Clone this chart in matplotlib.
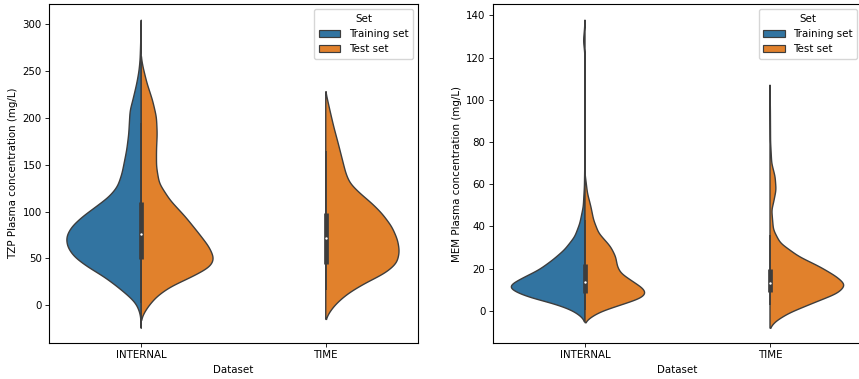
import numpy as np
import matplotlib
matplotlib.use("Agg")
import matplotlib.pyplot as plt
from matplotlib.patches import Patch

datasets = ["INTERNAL", "TIME"]
sets = ["Training set", "Test set"]
colors = {"Training set": "#3274a1", "Test set": "#e1812c"}
edge = "#3d3d3d"

# ---- density profiles: concentration (mg/L) and half-width ----
tzp_int_train_y = [-24.6, -15, -8.8, 1.9, 9.1, 19.7, 30.4, 41.1, 51.8, 62.5, 73.1, 83.8, 94.5,
                   105, 115.8, 126.5, 140.7, 165.7, 183, 208, 219, 236.7, 250, 262, 280, 304.4]
tzp_int_train_w = [0, 0.002, 0.005, 0.027, 0.063, 0.127, 0.199, 0.289, 0.361, 0.397, 0.403, 0.374, 0.316,
                   0.244, 0.172, 0.127, 0.103, 0.078, 0.067, 0.060, 0.045, 0.024, 0.012, 0.006, 0.003, 0]
tzp_int_test_y = [-15.8, -10.5, -1.6, 9.1, 19.7, 30.4, 41.1, 50, 62.5, 76.6, 94.5, 112, 130, 148,
                  165.7, 183, 201, 219, 236.7, 254.6, 265]
tzp_int_test_w = [0, 0.009, 0.036, 0.081, 0.154, 0.271, 0.370, 0.389, 0.361, 0.307, 0.235, 0.154, 0.096, 0.081,
                  0.081, 0.085, 0.081, 0.060, 0.031, 0.009, 0]
tzp_time_test_y = [-15, -6.8, 2.1, 12.8, 23.5, 34.2, 44.8, 57.2, 69.7, 83.9, 98.2, 108.9, 119.5, 130.2,
                   140.9, 155, 172.9, 190.6, 208.4, 228]
tzp_time_test_w = [0, 0.022, 0.058, 0.121, 0.211, 0.320, 0.383, 0.397, 0.387, 0.356, 0.302, 0.248, 0.184, 0.130,
                   0.108, 0.090, 0.067, 0.043, 0.022, 0]

mem_int_train_y = [-5.0, -2.7, 0.5, 3.6, 6.0, 8.3, 10.7, 12.3, 15.4, 19.4, 24.1, 28.9, 35.1, 41.5,
                   49.4, 58.9, 70, 100, 122, 128, 134, 137.8]
mem_int_train_w = [0, 0.018, 0.072, 0.170, 0.278, 0.349, 0.398, 0.394, 0.332, 0.242, 0.170, 0.108, 0.054, 0.027,
                   0.009, 0.003, 0.001, 0.0005, 0.001, 0.008, 0.002, 0]
mem_int_test_y = [-5.6, -3.5, -0.4, 2.8, 6.0, 8.3, 10.7, 13.9, 17.8, 21.0, 25.7, 30.5, 36.8, 43.1,
                  49.4, 55.7, 65.2]
mem_int_test_w = [0, 0.023, 0.081, 0.188, 0.296, 0.322, 0.305, 0.251, 0.188, 0.170, 0.161, 0.134, 0.072, 0.045,
                  0.031, 0.013, 0]
mem_time_test_y = [-8.2, -5.1, -1.1, 3.6, 8.4, 12.3, 16.2, 21, 25.7, 32.1, 38.4, 47.8, 51, 57.3,
                   63.6, 69.9, 80, 95, 107]
mem_time_test_w = [0, 0.027, 0.098, 0.224, 0.358, 0.398, 0.35, 0.26, 0.152, 0.054, 0.018, 0.009, 0.018, 0.032,
                   0.027, 0.009, 0.003, 0.002, 0]

# box stats (whislo, q1, median, q3, whishi) per dataset
tzp_box = {"INTERNAL": [3, 49, 76, 110.6, 195], "TIME": [16, 44.1, 71.5, 98.8, 165]}
mem_box = {"INTERNAL": [0.5, 8.3, 13.6, 22.4, 43], "TIME": [3, 8.9, 13.1, 19.9, 36]}

tzp_profiles = {
    ("INTERNAL", "Training set"): (tzp_int_train_y, tzp_int_train_w),
    ("INTERNAL", "Test set"): (tzp_int_test_y, tzp_int_test_w),
    ("TIME", "Test set"): (tzp_time_test_y, tzp_time_test_w),
}
mem_profiles = {
    ("INTERNAL", "Training set"): (mem_int_train_y, mem_int_train_w),
    ("INTERNAL", "Test set"): (mem_int_test_y, mem_int_test_w),
    ("TIME", "Test set"): (mem_time_test_y, mem_time_test_w),
}


def smooth_profile(yy, ww, sigma):
    # render the read-off profile as a smooth outline
    yf = np.linspace(yy[0], yy[-1], 800)
    wf = np.interp(yf, yy, ww)
    step = yf[1] - yf[0]
    half = int(4 * sigma / step) + 1
    k = np.exp(-0.5 * (np.arange(-half, half + 1) * step / sigma) ** 2)
    k /= k.sum()
    padded = np.concatenate([np.zeros(half), wf, np.zeros(half)])
    ws = np.convolve(padded, k, mode="same")[half:-half]
    ws *= max(ww) / ws.max()
    return yf, ws


def draw(ax, profiles, boxes, ylabel, ylim, yticks, sigma):
    for i, ds in enumerate(datasets):
        for s in sets:
            if (ds, s) not in profiles:
                continue
            yy, ww = profiles[(ds, s)]
            yf, wf = smooth_profile(yy, ww, sigma)
            sign = -1 if s == "Training set" else 1
            xs = np.concatenate([[i], i + sign * wf, [i]])
            ys = np.concatenate([[yf[0]], yf, [yf[-1]]])
            ax.fill(xs, ys, facecolor=colors[s], edgecolor=edge, linewidth=1.0, zorder=2)
        lo, q1, med, q3, hi = boxes[ds]
        ax.plot([i, i], [lo, hi], color=edge, lw=1.2, solid_capstyle="butt", zorder=3)
        ax.plot([i, i], [q1, q3], color=edge, lw=3.4, solid_capstyle="butt", zorder=3)
        ax.scatter([i], [med], s=3, color="white", zorder=4, linewidths=0)
    ax.set_xlim(-0.5, 1.5)
    ax.set_ylim(*ylim)
    ax.set_xticks(range(len(datasets)))
    ax.set_xticklabels(datasets)
    ax.set_yticks(yticks)
    ax.set_xlabel("Dataset", fontsize=7.4, labelpad=3.5)
    ax.set_ylabel(ylabel, fontsize=7.4, labelpad=3)
    ax.tick_params(labelsize=7.4, length=2.6, width=0.6, pad=2.5)
    for sp in ax.spines.values():
        sp.set_linewidth(0.8)
    handles = [Patch(facecolor=colors[s], edgecolor=edge, linewidth=0.85, label=s) for s in sets]
    ax.legend(handles=handles, title="Set", loc="upper right", fontsize=7.4,
              title_fontsize=7.4, borderaxespad=0.5, handlelength=2.1,
              handleheight=0.75, labelspacing=0.5, borderpad=0.45, handletextpad=0.8)


fig = plt.figure(figsize=(8.59, 3.79), dpi=100)
ax1 = fig.add_axes([49 / 859, 36 / 379, 369 / 859, 339 / 379])
ax2 = fig.add_axes([492.5 / 859, 36 / 379, 370 / 859, 339 / 379])
draw(ax1, tzp_profiles, tzp_box, "TZP Plasma concentration (mg/L)", (-40.2, 321.6), range(0, 301, 50), 4.0)
draw(ax2, mem_profiles, mem_box, "MEM Plasma concentration (mg/L)", (-15.2, 145.4), range(0, 141, 20), 1.3)
fig.savefig("out.png", dpi=100)
